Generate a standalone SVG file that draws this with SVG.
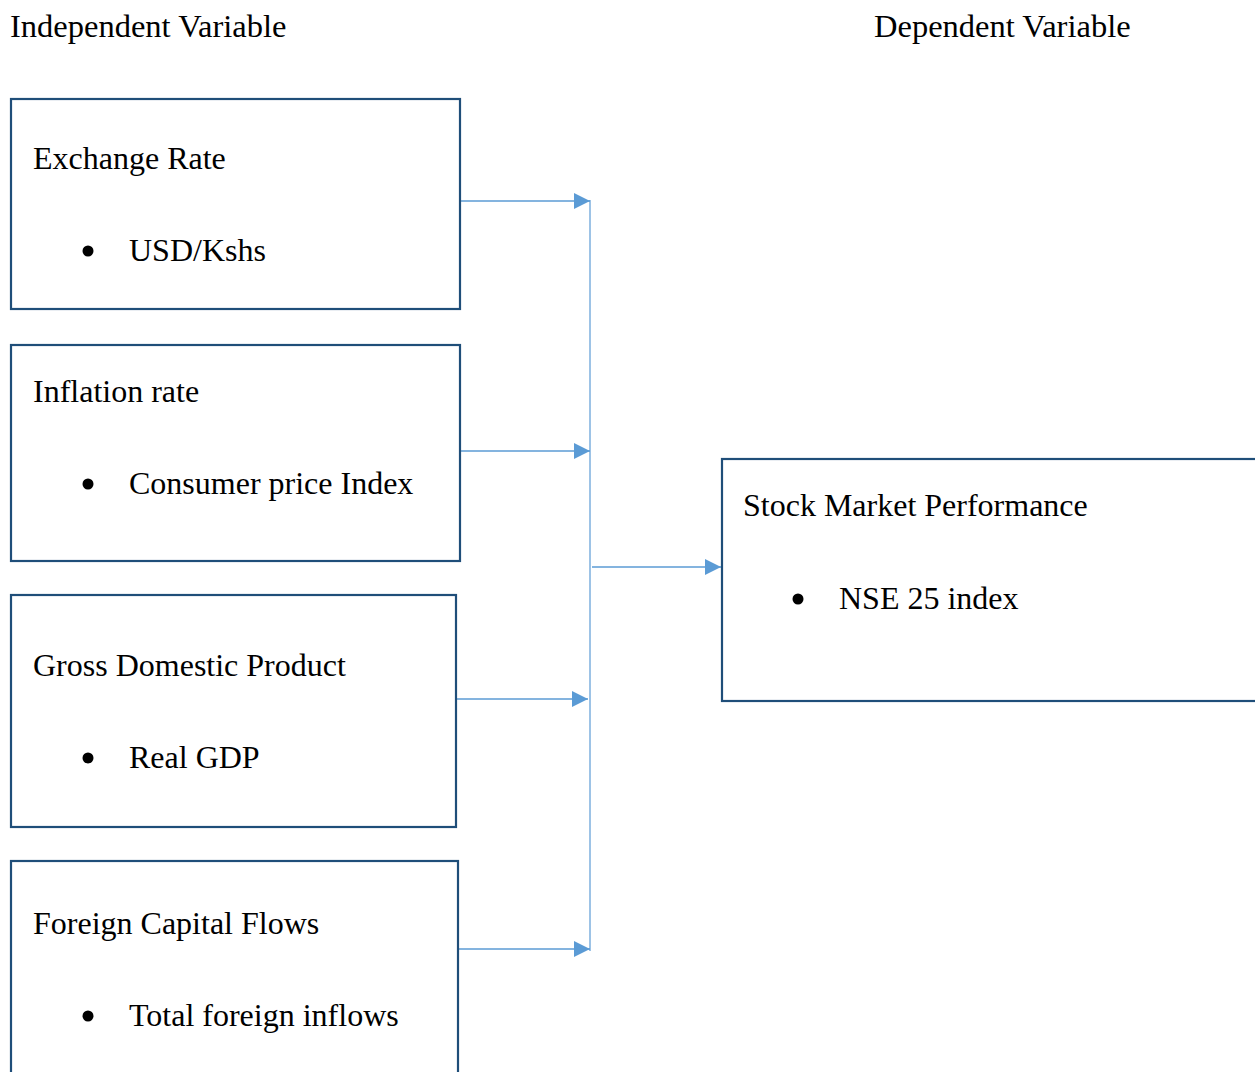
<svg xmlns="http://www.w3.org/2000/svg" width="1255" height="1072" viewBox="0 0 1255 1072">
<defs>
<style>
.t{font-family:"Liberation Serif","Times New Roman",serif;font-size:32px;fill:#000}
.h{font-size:32.5px}
.box{fill:#fff;stroke:#1f4e79;stroke-width:2.2}
.ln{stroke:#5b9bd5;stroke-width:1.5;fill:none}
.vl{stroke:#9dc3e6;stroke-width:2;fill:none}
.b{fill:#000}
</style>
<marker id="ah2" viewBox="0 0 16 16" refX="16" refY="8" markerWidth="16" markerHeight="16" markerUnits="userSpaceOnUse" orient="auto"><path d="M0,0 L16,8 L0,16 Z" fill="#5b9bd5"/></marker>
</defs>
<rect width="1255" height="1072" fill="#fff"/>
<text class="t h" x="10" y="37">Independent Variable</text>
<text class="t h" x="874" y="37">Dependent Variable</text>
<g id="connectors">
<line class="vl" x1="590" y1="200" x2="590" y2="951"/>
<line class="ln" x1="460" y1="201" x2="590" y2="201" marker-end="url(#ah2)"/>
<line class="ln" x1="460" y1="451" x2="590" y2="451" marker-end="url(#ah2)"/>
<line class="ln" x1="456" y1="699" x2="588" y2="699" marker-end="url(#ah2)"/>
<line class="ln" x1="458" y1="949" x2="590" y2="949" marker-end="url(#ah2)"/>
<line class="ln" x1="592" y1="567" x2="721" y2="567" marker-end="url(#ah2)"/>
</g>
<g id="node-exchange">
<rect class="box" x="11" y="99" width="449" height="210"/>
<text class="t" x="33" y="169">Exchange Rate</text>
<circle class="b" cx="88" cy="251" r="5.5"/>
<text class="t" x="129" y="261">USD/Kshs</text>
</g>
<g id="node-inflation">
<rect class="box" x="11" y="345" width="449" height="216"/>
<text class="t" x="33" y="402">Inflation rate</text>
<circle class="b" cx="88" cy="484" r="5.5"/>
<text class="t" x="129" y="494">Consumer price Index</text>
</g>
<g id="node-gdp">
<rect class="box" x="11" y="595" width="445" height="232"/>
<text class="t" x="33" y="676">Gross Domestic Product</text>
<circle class="b" cx="88" cy="758" r="5.5"/>
<text class="t" x="129" y="768">Real GDP</text>
</g>
<g id="node-fcf">
<rect class="box" x="11" y="861" width="447" height="230"/>
<text class="t" x="33" y="934">Foreign Capital Flows</text>
<circle class="b" cx="88" cy="1016" r="5.5"/>
<text class="t" x="129" y="1026">Total foreign inflows</text>
</g>
<g id="node-stock">
<rect class="box" x="722" y="459" width="540" height="242"/>
<text class="t" x="743" y="516">Stock Market Performance</text>
<circle class="b" cx="798" cy="599" r="5.5"/>
<text class="t" x="839" y="609">NSE 25 index</text>
</g>
</svg>
